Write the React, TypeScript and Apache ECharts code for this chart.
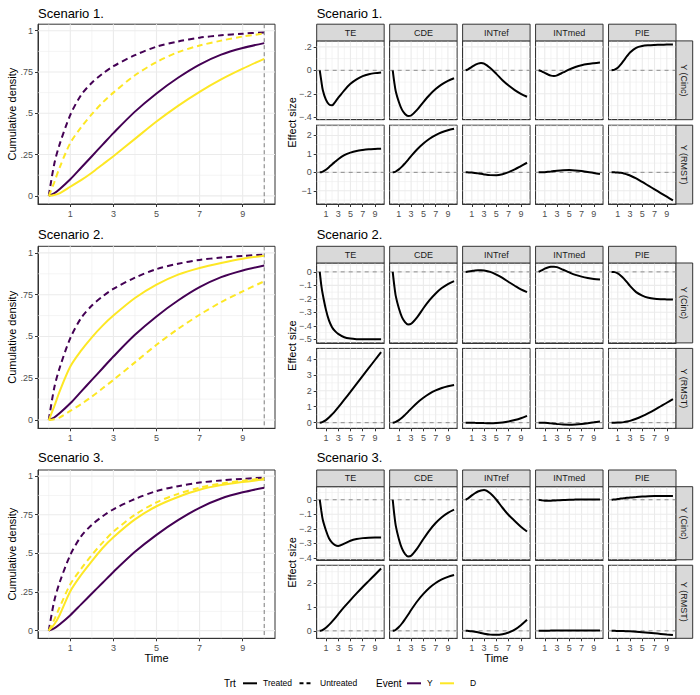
import React, { useEffect, useRef } from "react";
import * as echarts from "echarts";

// ---- shared time grid ----
const TIME = [0, 0.25, 0.5, 1, 1.5, 2, 2.5, 3, 4, 5, 6, 7, 8, 9, 10];
const timeTicks = [1, 3, 5, 7, 9];

// ---- cumulative density curves ----
const yTreated = [0, 0.015, 0.04, 0.1, 0.17, 0.24, 0.31, 0.38, 0.51, 0.62, 0.715, 0.795, 0.855, 0.895, 0.925];
const yUntreated = [0, 0.19, 0.31, 0.49, 0.61, 0.685, 0.74, 0.785, 0.852, 0.903, 0.935, 0.958, 0.972, 0.982, 0.99];
const dSlow = [0, 0.005, 0.015, 0.055, 0.095, 0.14, 0.19, 0.24, 0.345, 0.45, 0.545, 0.63, 0.705, 0.77, 0.83];
const dFast = [0, 0.08, 0.17, 0.32, 0.415, 0.495, 0.565, 0.625, 0.73, 0.81, 0.87, 0.91, 0.94, 0.965, 0.983];
const s3DTreated = [0, 0.04, 0.1, 0.255, 0.36, 0.45, 0.535, 0.605, 0.72, 0.805, 0.865, 0.912, 0.942, 0.962, 0.978];
const s3DUntreated = [0, 0.07, 0.15, 0.3, 0.4, 0.49, 0.57, 0.64, 0.75, 0.83, 0.885, 0.925, 0.952, 0.97, 0.985];

const densityTicks = [0, 0.25, 0.5, 0.75, 1];
const densityLabels = ["0", ".25", ".5", ".75", "1"];

// ---- effect decomposition ----
const EFFECTS = ["TE", "CDE", "INTref", "INTmed", "PIE"];
const MEASURES = ["Y (Cinc)", "Y (RMST)"];

const cdeCinc = [0, -0.1, -0.18, -0.27, -0.335, -0.372, -0.39, -0.385, -0.335, -0.27, -0.21, -0.16, -0.12, -0.09, -0.068];
const cdeRmst = [0, 0.012, 0.047, 0.16, 0.31, 0.49, 0.68, 0.88, 1.25, 1.56, 1.82, 2.02, 2.17, 2.28, 2.36];

const s1TeCinc = [0, -0.09, -0.17, -0.25, -0.29, -0.298, -0.27, -0.235, -0.17, -0.115, -0.077, -0.05, -0.034, -0.024, -0.018];
const s1IntrefCinc = [0, 0.005, 0.012, 0.03, 0.045, 0.057, 0.062, 0.057, 0.02, -0.03, -0.085, -0.13, -0.168, -0.2, -0.225];
const s1IntmedCinc = [0, -0.004, -0.009, -0.022, -0.035, -0.045, -0.048, -0.043, -0.018, 0.008, 0.028, 0.043, 0.053, 0.06, 0.066];
const s1PieCinc = [0, 0.002, 0.006, 0.022, 0.05, 0.085, 0.12, 0.152, 0.192, 0.207, 0.213, 0.216, 0.218, 0.219, 0.22];
const s1TeRmst = [0, 0.01, 0.04, 0.14, 0.28, 0.43, 0.57, 0.71, 0.93, 1.07, 1.16, 1.21, 1.245, 1.265, 1.28];
const s1IntrefRmst = [0, 0, -0.002, -0.01, -0.03, -0.055, -0.08, -0.11, -0.15, -0.155, -0.1, 0.01, 0.16, 0.34, 0.52];
const s1IntmedRmst = [0, 0.001, 0.003, 0.012, 0.027, 0.047, 0.07, 0.093, 0.12, 0.125, 0.105, 0.07, 0.022, -0.035, -0.09];
const s1PieRmst = [0, 0, -0.001, -0.008, -0.027, -0.06, -0.11, -0.17, -0.33, -0.52, -0.72, -0.92, -1.12, -1.32, -1.52];

const s2TeCinc = [0, -0.1, -0.17, -0.28, -0.36, -0.41, -0.44, -0.46, -0.485, -0.495, -0.499, -0.5, -0.5, -0.5, -0.5];
const s2IntrefCinc = [0, 0.001, 0.003, 0.007, 0.011, 0.013, 0.013, 0.011, 0, -0.02, -0.045, -0.075, -0.103, -0.13, -0.15];
const s2IntmedCinc = [0, 0.006, 0.012, 0.024, 0.033, 0.038, 0.039, 0.035, 0.016, -0.004, -0.022, -0.035, -0.045, -0.052, -0.056];
const s2PieCinc = [0, -0.001, -0.002, -0.011, -0.028, -0.05, -0.076, -0.104, -0.15, -0.176, -0.192, -0.2, -0.203, -0.204, -0.205];
const s2TeRmst = [0, 0.013, 0.047, 0.16, 0.32, 0.52, 0.73, 0.96, 1.44, 1.93, 2.43, 2.93, 3.43, 3.93, 4.43];
const s2IntrefRmst = [0, 0, -0.001, -0.004, -0.01, -0.016, -0.022, -0.027, -0.03, -0.018, 0.015, 0.075, 0.165, 0.28, 0.43];
const s2IntmedRmst = [0, -0.001, -0.003, -0.012, -0.026, -0.044, -0.063, -0.082, -0.115, -0.125, -0.11, -0.078, -0.032, 0.022, 0.08];
const s2PieRmst = [0, 0, 0, 0.005, 0.015, 0.035, 0.068, 0.113, 0.245, 0.415, 0.605, 0.81, 1.03, 1.25, 1.48];

const s3TeCinc = [0, -0.075, -0.14, -0.21, -0.265, -0.295, -0.312, -0.318, -0.302, -0.282, -0.27, -0.264, -0.261, -0.26, -0.26];
const s3IntrefCinc = [0, 0.006, 0.013, 0.03, 0.045, 0.057, 0.064, 0.067, 0.045, 0, -0.055, -0.105, -0.146, -0.185, -0.218];
const s3IntmedCinc = [0, -0.002, -0.004, -0.006, -0.006, -0.006, -0.005, -0.004, -0.002, 0, 0.001, 0.002, 0.002, 0.002, 0.002];
const s3PieCinc = [0, 0.001, 0.002, 0.005, 0.008, 0.01, 0.013, 0.015, 0.019, 0.022, 0.024, 0.025, 0.025, 0.025, 0.025];
const s3TeRmst = [0, 0.01, 0.038, 0.13, 0.25, 0.39, 0.54, 0.7, 1.01, 1.3, 1.58, 1.85, 2.11, 2.37, 2.63];
const s3IntrefRmst = [0, 0, -0.002, -0.015, -0.035, -0.06, -0.09, -0.12, -0.16, -0.17, -0.14, -0.07, 0.05, 0.24, 0.47];
const s3IntmedRmst = [0, 0, 0.001, 0.004, 0.007, 0.01, 0.013, 0.015, 0.018, 0.019, 0.018, 0.016, 0.014, 0.012, 0.01];
const s3PieRmst = [0, 0, 0, -0.003, -0.006, -0.01, -0.015, -0.021, -0.038, -0.058, -0.081, -0.105, -0.13, -0.155, -0.175];

// tick values and labels of the effect-size rows
const s1CincTicks = [-0.4, -0.2, 0, 0.2];
const s1CincLabels = ["\u2212.4", "\u2212.2", "0", ".2"];
const s1RmstTicks = [-1, 0, 1, 2];
const s1RmstLabels = ["\u22121", "0", "1", "2"];
const s2CincTicks = [-0.5, -0.4, -0.3, -0.2, -0.1, 0];
const s2CincLabels = ["\u2212.5", "\u2212.4", "\u2212.3", "\u2212.2", "\u2212.1", "0"];
const s2RmstTicks = [0, 1, 2, 3, 4];
const s2RmstLabels = ["0", "1", "2", "3", "4"];
const s3CincTicks = [-0.4, -0.3, -0.2, -0.1, 0];
const s3CincLabels = ["\u2212.4", "\u2212.3", "\u2212.2", "\u2212.1", "0"];
const s3RmstTicks = [0, 1, 2];
const s3RmstLabels = ["0", "1", "2"];

const TRT = ["Treated", "Untreated"];
const EVENTS = ["Y", "D"];

// ---- styling ----
const FONT = "'Liberation Sans', Arial, Helvetica, sans-serif";
const PURPLE = "#440154";
const YELLOW = "#FDE725";
const BORDER = "#333333";
const TICK_TEXT = "#4D4D4D";
const GRID_LINE = "#EBEBEB";
const DASH = [6, 4];

const LEFT_X = 38;
const LEFT_W = 237;
const COL_X0 = 316.7;
const COL_W = 67.46;
const GAP = 5.5;
const STRIP = 16.7;

function expand(rows: number[][], pad = 0.05): [number, number] {
  const all = rows.flat();
  const lo = Math.min(...all);
  const hi = Math.max(...all);
  const p = (hi - lo) * pad;
  return [lo - p, hi + p];
}

function minorBreaks(major: number[], lo: number, hi: number): number[] {
  const step = major[1] - major[0];
  const out: number[] = [];
  for (let v = major[0] - step / 2; v <= major[major.length - 1] + step / 2 + 1e-9; v += step) {
    if (v >= lo - 1e-9 && v <= hi + 1e-9) out.push(v);
  }
  return out;
}

function labelFor(ticks: number[], labels: string[]) {
  return (v: number) => {
    const i = ticks.findIndex((t) => Math.abs(t - v) < 1e-7);
    return i >= 0 ? labels[i] : "";
  };
}

function buildOption() {
  const grid: any[] = [];
  const xAxis: any[] = [];
  const yAxis: any[] = [];
  const series: any[] = [];
  const graphic: any[] = [];

  const [xMin, xMax] = expand([TIME]);
  const xMinor = minorBreaks(timeTicks, xMin, xMax);

  const text = (t: string, x: number, y: number, size: number, opts: any = {}) => ({
    type: "text",
    x,
    y,
    rotation: opts.rotation || 0,
    silent: true,
    z: 20,
    style: {
      text: t,
      fill: opts.color || "#000000",
      font: `${size}px ${FONT}`,
      align: opts.align || "left",
      verticalAlign: "middle",
      textAlign: opts.align || "left",
      textVerticalAlign: "middle",
    },
  });

  function addPanel(
    rect: { x: number; y: number; w: number; h: number },
    yRange: [number, number],
    yTicks: number[],
    yLabels: string[],
    showX: boolean,
    showY: boolean,
    lines: { vals: number[]; color: string; dashed: boolean; width: number }[],
    refKind: "zero" | "end"
  ) {
    const g = grid.length;
    grid.push({
      left: rect.x,
      top: rect.y,
      width: rect.w,
      height: rect.h,
      show: true,
      backgroundColor: "#FFFFFF",
      borderColor: BORDER,
      borderWidth: 1,
      containLabel: false,
      outerBoundsMode: "none",
    });
    xAxis.push({
      type: "value",
      gridIndex: g,
      min: xMin,
      max: xMax,
      splitLine: { show: false },
      axisLine: { show: true, onZero: false, lineStyle: { color: BORDER, width: 1 } },
      axisTick: { show: showX, customValues: timeTicks, length: 3, lineStyle: { color: BORDER, width: 1 } },
      axisLabel: {
        show: showX,
        customValues: timeTicks,
        formatter: (v: number) => String(v),
        color: TICK_TEXT,
        fontSize: 9,
        margin: 5,
        fontFamily: FONT,
      },
    });
    yAxis.push({
      type: "value",
      gridIndex: g,
      min: yRange[0],
      max: yRange[1],
      splitLine: { show: false },
      axisLine: { show: true, onZero: false, lineStyle: { color: BORDER, width: 1 } },
      axisTick: { show: showY, customValues: yTicks, length: 3, lineStyle: { color: BORDER, width: 1 } },
      axisLabel: {
        show: showY,
        customValues: yTicks,
        formatter: labelFor(yTicks, yLabels),
        color: TICK_TEXT,
        fontSize: 9,
        margin: 5,
        fontFamily: FONT,
      },
    });

    // guide lines: [value, orientation (0 vertical, 1 horizontal), kind]
    const items: number[][] = [];
    const yMinor = minorBreaks(yTicks, yRange[0], yRange[1]);
    xMinor.forEach((v) => items.push([v, 0, 0]));
    yMinor.forEach((v) => items.push([v, 1, 0]));
    timeTicks.forEach((v) => items.push([v, 0, 1]));
    yTicks.forEach((v) => items.push([v, 1, 1]));
    if (refKind === "zero") items.push([0, 1, 2]);
    else items.push([TIME[TIME.length - 1], 0, 3]);

    series.push({
      type: "custom",
      xAxisIndex: g,
      yAxisIndex: g,
      silent: true,
      z: 1,
      data: items,
      renderItem: (params: any, api: any) => {
        const cs = params.coordSys;
        const v = api.value(0);
        const orient = api.value(1);
        const kind = api.value(2);
        let shape;
        if (orient === 0) {
          const px = api.coord([v, yRange[0]])[0];
          shape = { x1: px, y1: cs.y, x2: px, y2: cs.y + cs.height };
        } else {
          const py = api.coord([xMin, v])[1];
          shape = { x1: cs.x, y1: py, x2: cs.x + cs.width, y2: py };
        }
        let style: any;
        if (kind === 0) style = { stroke: GRID_LINE, lineWidth: 0.55 };
        else if (kind === 1) style = { stroke: GRID_LINE, lineWidth: 1.1 };
        else if (kind === 2) style = { stroke: "#8C8C8C", lineWidth: 1, lineDash: [4, 4] };
        else style = { stroke: "#5E5E5E", lineWidth: 0.8, lineDash: [4, 3] };
        return { type: "line", shape, style };
      },
    });

    lines.forEach((l) => {
      series.push({
        type: "line",
        xAxisIndex: g,
        yAxisIndex: g,
        data: TIME.map((t, i) => [t, l.vals[i]]),
        showSymbol: false,
        symbol: "none",
        smooth: 0.3,
        silent: true,
        z: 3,
        lineStyle: { color: l.color, width: l.width, type: l.dashed ? DASH : "solid", cap: "butt" },
      });
    });
  }

  const blocks = [
    {
      title: "Scenario 1.",
      titleY: 13.3,
      top: 24.2,
      bottom: 204,
      showTime: false,
      density: [
        { vals: yTreated, color: PURPLE, dashed: false },
        { vals: yUntreated, color: PURPLE, dashed: true },
        { vals: dSlow, color: YELLOW, dashed: false },
        { vals: dFast, color: YELLOW, dashed: true },
      ],
      cinc: [s1TeCinc, cdeCinc, s1IntrefCinc, s1IntmedCinc, s1PieCinc],
      rmst: [s1TeRmst, cdeRmst, s1IntrefRmst, s1IntmedRmst, s1PieRmst],
      cincTicks: s1CincTicks,
      cincLabels: s1CincLabels,
      rmstTicks: s1RmstTicks,
      rmstLabels: s1RmstLabels,
    },
    {
      title: "Scenario 2.",
      titleY: 234,
      top: 246.3,
      bottom: 428.3,
      showTime: false,
      density: [
        { vals: yTreated, color: PURPLE, dashed: false },
        { vals: yUntreated, color: PURPLE, dashed: true },
        { vals: dFast, color: YELLOW, dashed: false },
        { vals: dSlow, color: YELLOW, dashed: true },
      ],
      cinc: [s2TeCinc, cdeCinc, s2IntrefCinc, s2IntmedCinc, s2PieCinc],
      rmst: [s2TeRmst, cdeRmst, s2IntrefRmst, s2IntmedRmst, s2PieRmst],
      cincTicks: s2CincTicks,
      cincLabels: s2CincLabels,
      rmstTicks: s2RmstTicks,
      rmstLabels: s2RmstLabels,
    },
    {
      title: "Scenario 3.",
      titleY: 457.5,
      top: 470,
      bottom: 638.3,
      showTime: true,
      density: [
        { vals: yTreated, color: PURPLE, dashed: false },
        { vals: yUntreated, color: PURPLE, dashed: true },
        { vals: s3DTreated, color: YELLOW, dashed: false },
        { vals: s3DUntreated, color: YELLOW, dashed: true },
      ],
      cinc: [s3TeCinc, cdeCinc, s3IntrefCinc, s3IntmedCinc, s3PieCinc],
      rmst: [s3TeRmst, cdeRmst, s3IntrefRmst, s3IntmedRmst, s3PieRmst],
      cincTicks: s3CincTicks,
      cincLabels: s3CincLabels,
      rmstTicks: s3RmstTicks,
      rmstLabels: s3RmstLabels,
    },
  ];

  blocks.forEach((b) => {
    // left: cumulative density
    const densRange = expand(b.density.map((d) => d.vals));
    addPanel(
      { x: LEFT_X, y: b.top, w: LEFT_W, h: b.bottom - b.top },
      densRange,
      densityTicks,
      densityLabels,
      true,
      true,
      b.density.map((d) => ({ ...d, width: 2 })),
      "end"
    );
    graphic.push(text(b.title, LEFT_X, b.titleY, 13));
    graphic.push(
      text("Cumulative density", 11.7, (b.top + b.bottom) / 2, 11, { rotation: Math.PI / 2, align: "center" })
    );

    // right: effect facets
    graphic.push(text(b.title, COL_X0, b.titleY, 13));
    const rowTop1 = b.top + STRIP;
    const rowH = (b.bottom - rowTop1 - GAP) / 2;
    const rows = [
      { top: rowTop1, vals: b.cinc, ticks: b.cincTicks, labels: b.cincLabels },
      { top: rowTop1 + rowH + GAP, vals: b.rmst, ticks: b.rmstTicks, labels: b.rmstLabels },
    ];
    rows.forEach((r, ri) => {
      const range = expand(r.vals);
      EFFECTS.forEach((_, ci) => {
        const x = COL_X0 + ci * (COL_W + GAP);
        addPanel(
          { x, y: r.top, w: COL_W, h: rowH },
          range,
          r.ticks,
          r.labels,
          ri === 1,
          ci === 0,
          [{ vals: r.vals[ci], color: "#000000", dashed: false, width: 2 }],
          "zero"
        );
      });
      const sx = COL_X0 + 5 * COL_W + 4 * GAP;
      graphic.push({
        type: "rect",
        silent: true,
        z: 10,
        shape: { x: sx, y: r.top, width: STRIP, height: rowH },
        style: { fill: "#D9D9D9", stroke: BORDER, lineWidth: 1 },
      });
      graphic.push(
        text(MEASURES[ri], sx + STRIP / 2, r.top + rowH / 2, 9, {
          rotation: -Math.PI / 2,
          align: "center",
          color: "#1A1A1A",
        })
      );
    });
    EFFECTS.forEach((name, ci) => {
      const x = COL_X0 + ci * (COL_W + GAP);
      graphic.push({
        type: "rect",
        silent: true,
        z: 10,
        shape: { x, y: b.top, width: COL_W, height: STRIP },
        style: { fill: "#D9D9D9", stroke: BORDER, lineWidth: 1 },
      });
      graphic.push(text(name, x + COL_W / 2, b.top + STRIP / 2, 9, { align: "center", color: "#1A1A1A" }));
    });
    const panelsMid = (rowTop1 + b.bottom) / 2;
    graphic.push(text("Effect size", 291.7, panelsMid, 11, { rotation: Math.PI / 2, align: "center" }));

    if (b.showTime) {
      graphic.push(text("Time", LEFT_X + LEFT_W / 2, b.bottom + 20, 11, { align: "center" }));
      const rightMid = (COL_X0 + COL_X0 + 5 * COL_W + 4 * GAP) / 2;
      graphic.push(text("Time", rightMid, b.bottom + 20, 11, { align: "center" }));
    }
  });

  // legend
  const ly = 683.3;
  const keyLine = (x1: number, x2: number, color: string, dashed: boolean) => ({
    type: "line",
    silent: true,
    z: 20,
    shape: { x1, y1: ly, x2, y2: ly },
    style: { stroke: color, lineWidth: 2, lineDash: dashed ? [4, 3] : null },
  });
  graphic.push(text("Trt", 224, ly, 10));
  graphic.push(keyLine(243, 257, "#000000", false));
  graphic.push(text(TRT[0], 263, ly, 8.5));
  graphic.push(keyLine(299.5, 313.5, "#000000", true));
  graphic.push(text(TRT[1], 320, ly, 8.5));
  graphic.push(text("Event", 376, ly, 10));
  graphic.push(keyLine(407, 421, PURPLE, false));
  graphic.push(text(EVENTS[0], 427, ly, 8.5));
  graphic.push(keyLine(440, 454, YELLOW, false));
  graphic.push(text(EVENTS[1], 470, ly, 8.5));

  return {
    animation: false,
    backgroundColor: "#FFFFFF",
    grid,
    xAxis,
    yAxis,
    series,
    graphic,
  };
}

export default function App() {
  const ref = useRef<HTMLDivElement>(null);
  useEffect(() => {
    document.body.style.margin = "0";
    const chart = echarts.init(ref.current as HTMLDivElement, undefined, { renderer: "svg" });
    chart.setOption(buildOption() as any);
    return () => chart.dispose();
  }, []);
  return <div ref={ref} style={{ width: 700, height: 695 }} />;
}
